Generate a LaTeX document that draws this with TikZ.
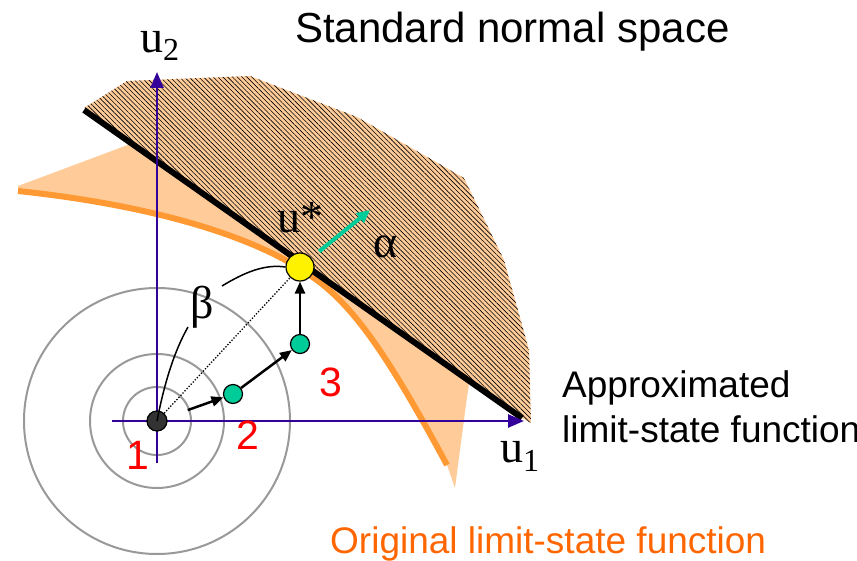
\documentclass[tikz,border=0pt]{standalone}
\usepackage{fontspec}
\setmainfont{Liberation Serif}
\setsansfont{Liberation Sans}
\usepackage{tikz}
\usetikzlibrary{arrows.meta,patterns.meta}
\definecolor{axisblue}{HTML}{330099}
\definecolor{failfill}{HTML}{FFCC99}
\definecolor{lsfline}{HTML}{FF9933}
\definecolor{lsftext}{HTML}{FF6600}
\definecolor{stepgreen}{HTML}{00CC99}
\definecolor{darkdot}{HTML}{333333}

\begin{document}
\begin{tikzpicture}[
x=1pt, y=-1pt,
axis/.style={draw=axisblue, line width=2.5pt, -{Triangle[length=16pt,width=13pt]}},
contour/.style={draw=black!40, line width=2pt},
steparr/.style={-{Triangle[length=12pt,width=10pt]}, line width=2.5pt},
ptnode/.style={circle, draw, line width=1.2pt, inner sep=0pt, minimum size=#1},
lab/.style={font=\fontsize{46}{46}\selectfont, inner sep=0pt},
numlab/.style={font=\sffamily\fontsize{41}{41}\selectfont, text=red, inner sep=0pt},
txt/.style={font=\sffamily\fontsize{37}{45}\selectfont, align=left, inner sep=0pt}
]
\useasboundingbox (0,0) rectangle (857,561);

% original failure domain
\coordinate (lsfa) at (18,191);
\coordinate (lsfm) at (305,272);
\coordinate (lsfb) at (447,465);
\fill[failfill] (lsfa) .. controls (150,205) and (250,235) .. (lsfm) .. controls (350,300) and (385,350) .. (lsfb)
  -- (455,488) -- (467,397) -- (470,378) -- (480,290) -- (200,100) -- (133,143) -- (18,186) -- cycle;
\draw[lsfline, line width=6pt] (lsfa) .. controls (150,205) and (250,235) .. (lsfm) .. controls (350,300) and (385,350) .. (lsfb);

% approximated failure domain
\path[fill=failfill, postaction={pattern={Lines[angle=-45,distance=3.4pt,line width=0.6pt]}, pattern color=black}]
  (84,108) -- (127,81) -- (250,76) -- (357,117) -- (464,178) -- (504,260) -- (529,350) -- (531,423) -- (522,418) -- cycle;
\coordinate (lsa) at (84,110);
\coordinate (lsb) at (522,418);
\draw[line width=6pt] (lsa) -- (lsb);

\coordinate (o) at (157,421);
\foreach \r in {34,67,133}
  \draw[contour] (o) circle (\r);

\coordinate (u1s) at (112,421);
\coordinate (u1e) at (524,421);
\coordinate (u2s) at (157,463);
\coordinate (u2e) at (157,72);
\draw[axis] (u1s) -- (u1e);
\draw[axis] (u2s) -- (u2e);

\node[ptnode=20pt, fill=darkdot] (p1) at (o) {};
\node[ptnode=19pt, fill=stepgreen] (p2) at (233,394) {};
\node[ptnode=19pt, fill=stepgreen] (p3) at (300,344) {};
\node[ptnode=28pt, fill=yellow] (ustar) at (300,267) {};

\draw[dash pattern=on 1.3pt off 1.7pt, line width=1.3pt] (p1) -- (ustar);

\node[lab, anchor=base west] (beta) at (190,319) {β};
\coordinate (bl) at (188,327);
\coordinate (bu) at (222,286);
\draw[line width=1.5pt] (o) .. controls (165,380) and (175,350) .. (bl);
\draw[line width=1.5pt] (bu) .. controls (245,272) and (265,264) .. (ustar.west);

\draw[steparr, shorten <=22pt] (p1) -- (p2);
\draw[steparr] (p2) -- (p3);
\draw[steparr] (p3) -- (ustar);

\coordinate (atip) at (370,210);
\draw[stepgreen, line width=4pt, -{Triangle[length=13pt,width=12pt]}, shorten <=10pt] (ustar) -- (atip);

\node[lab, anchor=base west] (ustarlab) at (277,233) {u*};
\node[lab, anchor=base west] (alpha) at (373,258) {α};
\node[lab, anchor=base west] (u2lab) at (140,53) {u\raisebox{-8pt}{\fontsize{32}{32}\selectfont 2}};
\node[lab, anchor=base west] (u1lab) at (500,462) {u\raisebox{-9pt}{\fontsize{32}{32}\selectfont 1}};

\node[numlab] (n1) at (138,455) {1};
\node[numlab] (n2) at (248,435) {2};
\node[numlab] (n3) at (331,382) {3};

\node[txt, font=\sffamily\fontsize{42}{42}\selectfont, anchor=base west] (title) at (295,43) {Standard normal space};
\node[txt, anchor=base west] (approx) at (562,442) {Approximated\\limit-state function};
\node[txt, text=lsftext, anchor=base west] (orig) at (330,553) {Original limit-state function};
\end{tikzpicture}
\end{document}
